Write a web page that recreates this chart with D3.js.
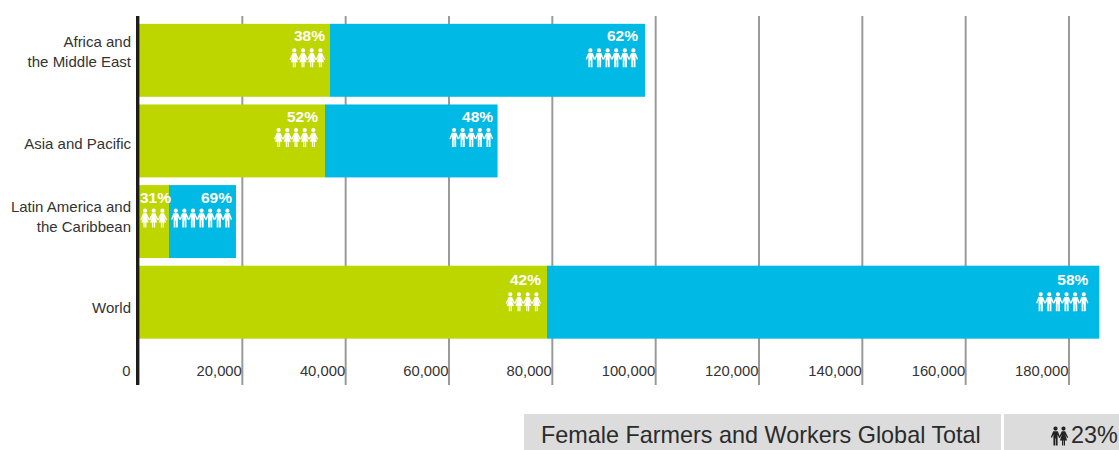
<!DOCTYPE html>
<html><head><meta charset="utf-8">
<script src="https://cdnjs.cloudflare.com/ajax/libs/d3/7.8.5/d3.min.js"></script>
<style>html,body{margin:0;padding:0;background:#fff}svg{display:block;font-family:"Liberation Sans",Arial,sans-serif}</style>
</head><body><svg id="c" width="1119" height="450"></svg>
<script>
const categories=[["Africa and","the Middle East"],["Asia and Pacific"],["Latin America and","the Caribbean"],["World"]];
const women=[36970,36000,5800,78970];
const men=[60970,33400,12970,106900];
const womenPct=[38,52,31,42];
const menPct=[62,48,69,58];
const womenIcons=[4,5,3,4];
const menIcons=[6,5,7,6];
const ticks=[20000,40000,60000,80000,100000,120000,140000,160000,180000];
const footerLabel="Female Farmers and Workers Global Total";
const footerValue="23%";

// layout nudges (pixels, per row)
const labelNudge=[-8.5,3,-5,6];
const womenLabelInset=[5,7,-2,6], womenIconInset=[5,7,2,6];
const menLabelInset=[7,4.5,4,11];
const rowTextShift=[0,0,0,2], rowIconShift=[1,0,0,3];

const svg=d3.select("#c");
const x=d3.scaleLinear().domain([0,180000]).range([139,1069]);
const y=d3.scaleBand().domain(d3.range(categories.length)).range([20,342.5]).paddingInner(0.095).paddingOuter(0.0475);

const WOMAN="M0,-9.5a2.1,2.1 0 1,1 0,4.2a2.1,2.1 0 1,1 0,-4.2M-1.7,-4.8H1.7L4.7,1.6L3.6,2.1L1.6,-1.7L3.6,4.4H1.5V9.5H0.3V4.4H-0.3V9.5H-1.5V4.4H-3.6L-1.6,-1.7L-3.6,2.1L-4.7,1.6Z";
const MAN="M0,-9.5a2.1,2.1 0 1,1 0,4.2a2.1,2.1 0 1,1 0,-4.2M-2.3,-4.8H2.3L4.7,1.2L3.5,1.8L2.1,-1.5V9.5H0.3V2.5H-0.3V9.5H-2.1V-1.5L-3.5,1.8L-4.7,1.2Z";

svg.append("g").selectAll("line").data(ticks).join("line")
 .attr("x1",d=>x(d)).attr("x2",d=>x(d)).attr("y1",16).attr("y2",385)
 .attr("stroke","#9a9a9a").attr("stroke-width",2);

const rows=svg.append("g").selectAll("g").data(categories).join("g");
rows.append("rect").attr("x",x(0)).attr("y",(d,i)=>y(i)).attr("height",y.bandwidth())
 .attr("width",(d,i)=>x(women[i])-x(0)).attr("fill","#bed600");
rows.append("rect").attr("x",(d,i)=>x(women[i])).attr("y",(d,i)=>y(i)).attr("height",y.bandwidth())
 .attr("width",(d,i)=>x(women[i]+men[i])-x(women[i])).attr("fill","#00b9e4");

function labels(getEnd,pcts,counts,path,step,labelInset,iconInset){
 rows.append("text").attr("x",(d,i)=>getEnd(i)-labelInset[i]).attr("y",(d,i)=>y(i)+17.5+rowTextShift[i])
  .attr("text-anchor","end").attr("fill","#fff").attr("font-weight","bold").attr("font-size",15.5)
  .text((d,i)=>pcts[i]+"%");
 rows.each(function(d,i){
  d3.select(this).append("g").selectAll("path").data(d3.range(counts[i])).join("path")
   .attr("d",path).attr("fill","#fff")
   .attr("transform",k=>`translate(${getEnd(i)-iconInset[i]-4.6-k*step},${y(i)+33+rowIconShift[i]})`);
 });
}
labels(i=>x(women[i]),womenPct,womenIcons,WOMAN,8.7,womenLabelInset,womenIconInset);
labels(i=>x(women[i]+men[i]),menPct,menIcons,MAN,8.6,menLabelInset,menLabelInset);

svg.append("g").selectAll("text").data(categories).join("text")
 .attr("text-anchor","end").attr("fill","#333").attr("font-size",15)
 .each(function(d,i){
  const t=d3.select(this), cy=y(i)+y.bandwidth()/2+labelNudge[i];
  d.forEach((s,k)=>t.append("tspan").attr("x",131).attr("y",cy+5+(k-(d.length-1)/2)*20).text(s));
 });

svg.append("g").selectAll("text").data(ticks).join("text")
 .attr("x",d=>x(d)-0.5).attr("y",376).attr("text-anchor","end").attr("fill","#333").attr("font-size",14.8)
 .text(d3.format(","));
svg.append("text").attr("x",130.5).attr("y",376).attr("text-anchor","end").attr("fill","#333").attr("font-size",14.8).text("0");

svg.append("line").attr("x1",137.7).attr("x2",137.7).attr("y1",16).attr("y2",385).attr("stroke","#1d1d1b").attr("stroke-width",3.4);

svg.append("rect").attr("x",524).attr("y",414).attr("width",477).attr("height",36).attr("fill","#dcdcdc");
svg.append("rect").attr("x",1004).attr("y",414).attr("width",115).attr("height",36).attr("fill","#dcdcdc");
svg.append("text").attr("x",541).attr("y",443).attr("font-size",23.4).attr("fill","#2b2b2b").text(footerLabel);
svg.append("text").attr("x",1071).attr("y",443).attr("font-size",23.4).attr("fill","#2b2b2b").text(footerValue);
svg.append("path").attr("d",WOMAN).attr("fill","#222").attr("transform","translate(1063.5,436)");
svg.append("path").attr("d",MAN).attr("fill","#222").attr("transform","translate(1055.5,436)");
</script></body></html>
